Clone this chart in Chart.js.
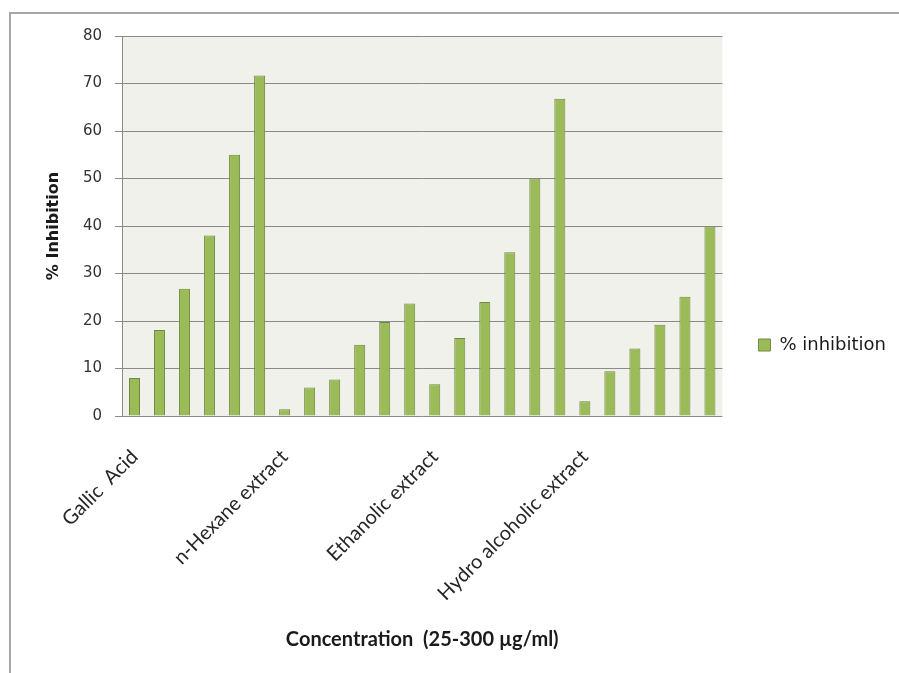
<!DOCTYPE html>
<html>
<head>
<meta charset="utf-8">
<script src="https://cdn.jsdelivr.net/npm/chart.js@4/dist/chart.umd.min.js"></script>
<style>
    body { margin: 0; background: #fff; }
    #wrap { position: relative; width: 899px; height: 673px; }
    #frame { position: absolute; left: 9px; top: 12px; width: 900px; height: 700px;
             border-left: 2px solid #a6a6a6; border-top: 2px solid #a6a6a6; }
    canvas { position: absolute; left: 0; top: 0; }
</style>
</head>
<body>
<div id="wrap">
    <div id="frame"></div>
    <canvas id="inhibitionChart" width="899" height="673"></canvas>
</div>
<script>
// Categorías: solo se rotula la primera concentración de cada extracto
const categories = [
    'Gallic  Acid', '', '', '', '', '',
    'n-Hexane extract', '', '', '', '', '',
    'Ethanolic extract', '', '', '', '', '',
    'Hydro alcoholic extract', '', '', '', '', ''
];

// % de inhibición (25-300 µg/ml)
const inhibition = [
    8.0, 18.1, 26.8, 38.0, 55.0, 71.7,
    1.4, 6.0, 7.7, 15.0, 19.8, 23.7,
    6.7, 16.4, 24.0, 34.5, 50.0, 66.8,
    3.1, 9.4, 14.2, 19.2, 25.1, 39.9
];

const seriesLabel = '% inhibition';
const yTicks = [0, 10, 20, 30, 40, 50, 60, 70, 80];

// Fondo del área de trazado
const plotBackground = {
    id: 'plotBackground',
    beforeDraw(chart) {
        const a = chart.chartArea;
        const ctx = chart.ctx;
        ctx.save();
        ctx.fillStyle = '#eff1ea';
        ctx.fillRect(a.left, a.top, a.right - a.left, a.bottom - a.top);
        ctx.restore();
    }
};

document.addEventListener('DOMContentLoaded', function() {
    const ctx = document.getElementById('inhibitionChart').getContext('2d');
    const inhibitionChart = new Chart(ctx, {
        type: 'bar',
        data: {
            labels: categories,
            datasets: [{
                label: seriesLabel,
                data: inhibition,
                backgroundColor: '#9bbb59',
                borderColor: '#6f8a3c',
                borderWidth: 1,
                barPercentage: 0.44,
                categoryPercentage: 1
            }]
        },
        plugins: [plotBackground],
        options: {
            responsive: false,
            animation: false,
            devicePixelRatio: 1,
            layout: {
                padding: { top: 36, left: 10, right: 3, bottom: 19 }
            },
            scales: {
                x: {
                    grid: { display: false },
                    border: { display: false },
                    ticks: {
                        autoSkip: false,
                        maxRotation: 45,
                        minRotation: 45,
                        padding: 21,
                        color: '#262626',
                        font: { family: 'Lato', size: 20 }
                    },
                    title: {
                        display: true,
                        text: 'Concentration  (25-300 µg/ml)',
                        color: '#1a1a1a',
                        font: { family: 'Lato', size: 20, weight: 'bold' },
                        padding: { top: 0, bottom: 2 }
                    },
                    afterFit(scale) { scale.height = 238; }
                },
                y: {
                    min: 0,
                    max: 80,
                    afterBuildTicks(scale) {
                        scale.ticks = yTicks.map(v => ({ value: v }));
                    },
                    grid: { color: '#8a8a8a', lineWidth: 1, tickLength: 7 },
                    border: { color: '#8a8a8a', width: 1 },
                    ticks: {
                        padding: 13,
                        color: '#333',
                        font: { family: 'DejaVu Sans', size: 15 }
                    },
                    title: {
                        display: true,
                        text: '% Inhibition',
                        color: '#1a1a1a',
                        font: { family: 'DejaVu Sans', size: 16, weight: 'bold' },
                        padding: { top: 34, bottom: 0 }
                    },
                    afterFit(scale) { scale.width = 112; }
                }
            },
            plugins: {
                legend: {
                    position: 'right',
                    labels: {
                        boxWidth: 12,
                        boxHeight: 12,
                        padding: 36,
                        color: '#1a1a1a',
                        font: { family: 'DejaVu Sans', size: 18 }
                    }
                },
                tooltip: { enabled: false }
            }
        }
    });
});
</script>
</body>
</html>
